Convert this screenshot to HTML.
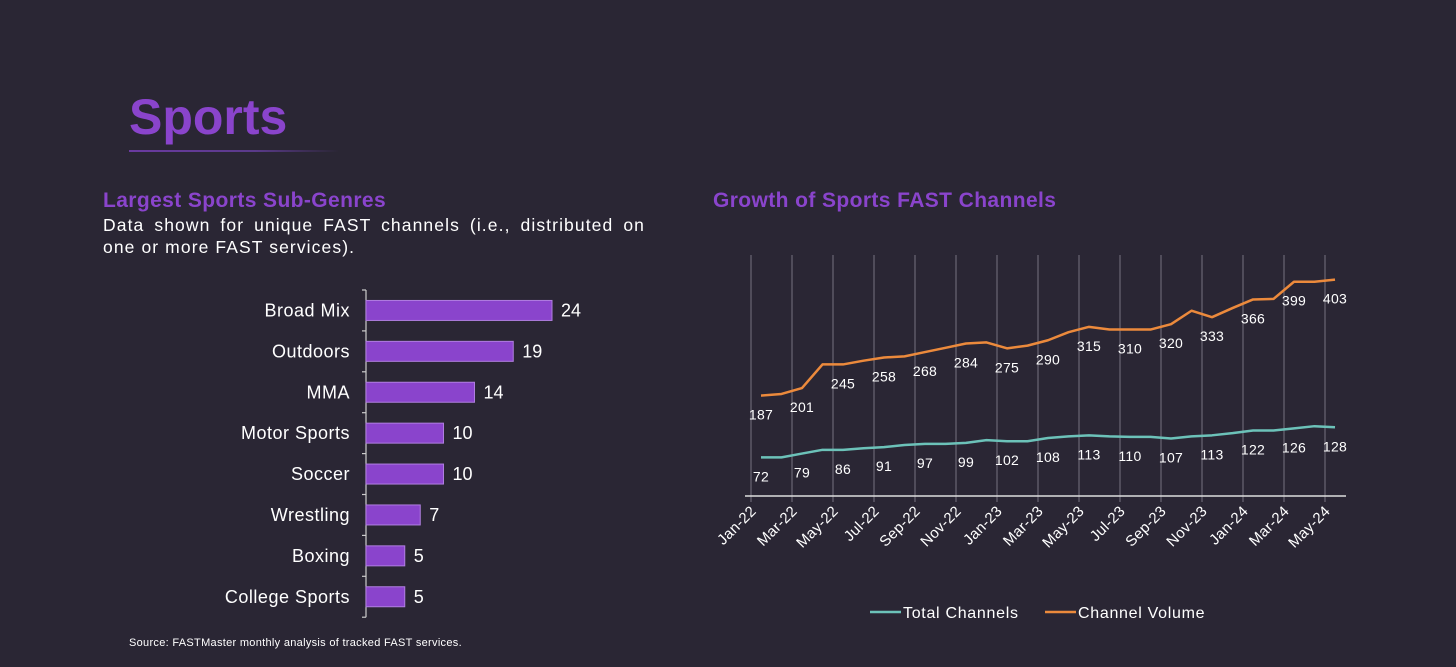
<!DOCTYPE html>
<html><head><meta charset="utf-8">
<style>
html,body{margin:0;padding:0;background:#2a2634;}
body{width:1456px;height:667px;position:relative;overflow:hidden;font-family:"Liberation Sans",sans-serif;color:#fff;}
.abs{position:absolute;}
</style></head>
<body>
<div class="abs" style="left:129px;top:88px;font-size:50px;font-weight:bold;color:#8a44cc;letter-spacing:0px;">Sports</div>
<div class="abs" style="left:129px;top:150px;width:210px;height:2px;background:linear-gradient(90deg,#6a3aa0,#5a3a8a 60%,rgba(42,38,52,0));"></div>
<div class="abs" style="left:103px;top:189px;font-size:21px;font-weight:bold;color:#8a44cc;letter-spacing:0.4px;">Largest Sports Sub-Genres</div>
<div class="abs" style="left:103px;top:214px;width:542px;font-size:17.5px;line-height:22px;text-align:justify;text-align-last:left;letter-spacing:1.1px;">Data shown for unique FAST channels (i.e., distributed on one or more FAST services).</div>
<div class="abs" style="left:713px;top:189px;font-size:21px;font-weight:bold;color:#8a44cc;letter-spacing:0.4px;">Growth of Sports FAST Channels</div>
<div class="abs" style="left:129px;top:637px;font-size:11px;letter-spacing:0.3px;">Source: FASTMaster monthly analysis of tracked FAST services.</div>

<svg class="abs" style="left:0;top:0" width="1456" height="667" id="charts"></svg>

<script>
const barCategories=["Broad Mix","Outdoors","MMA","Motor Sports","Soccer","Wrestling","Boxing","College Sports"];
const barValues=[24,19,14,10,10,7,5,5];
const months=["Jan-22","Feb-22","Mar-22","Apr-22","May-22","Jun-22","Jul-22","Aug-22","Sep-22","Oct-22","Nov-22","Dec-22","Jan-23","Feb-23","Mar-23","Apr-23","May-23","Jun-23","Jul-23","Aug-23","Sep-23","Oct-23","Nov-23","Dec-23","Jan-24","Feb-24","Mar-24","Apr-24","May-24"];
const channelVolume=[187,190,201,245,245,252,258,260,268,276,284,286,275,280,290,305,315,310,310,310,320,345,333,350,366,367,399,399,403];
const totalChannels=[72,72,79,86,86,89,91,95,97,97,99,104,102,102,108,111,113,111,110,110,107,111,113,117,122,122,126,130,128];

const NS="http://www.w3.org/2000/svg";
const svg=document.getElementById('charts');
function mk(tag,attrs,parent){const e=document.createElementNS(NS,tag);for(const k in attrs)e.setAttribute(k,attrs[k]);(parent||svg).appendChild(e);return e;}

// Bar chart
const bx0=366, bTop=290, band=40.9;
const bxScale=v=>bx0+v*7.75;
const bg=mk('g',{});


const ax=mk('line',{x1:bx0,y1:bTop,x2:bx0,y2:bTop+band*8,stroke:'#ccc','stroke-width':1.2},bg);


for(let i=0;i<=8;i++){mk('line',{x1:bx0-4,y1:bTop+i*band,x2:bx0,y2:bTop+i*band,stroke:'#ccc','stroke-width':1.2},bg);}
barCategories.forEach((c,i)=>{
  const cy=bTop+band*(i+0.5);
  const r=mk('rect',{x:bx0,y:cy-10,width:bxScale(barValues[i])-bx0,height:20,fill:'#8a44cc',stroke:'#b07ee0','stroke-width':1},bg);
  
  
  const t=mk('text',{x:350,y:cy+6,'text-anchor':'end','font-size':18,'letter-spacing':0.5,fill:'#fff'},bg);t.textContent=c;
  
  
  const v=mk('text',{x:bxScale(barValues[i])+9,y:cy+6,'font-size':18,fill:'#fff'},bg);v.textContent=barValues[i];
  
  
});

// Line chart
const lx=i=>761+i*20.5;
const tickX=i=>751+i*20.5;
const ly=v=>496-v*0.537;
const lg=mk('g',{});


for(let i=0;i<months.length;i+=2){
  const g=mk('line',{x1:tickX(i),y1:255,x2:tickX(i),y2:502,stroke:'#77737f','stroke-width':1},lg);
  
  
  const t=mk('text',{x:0,y:0,'text-anchor':'end','font-size':15,'letter-spacing':0.3,fill:'#fff',transform:`translate(${tickX(i)+6},${512}) rotate(-45)`},lg);
  t.textContent=months[i];
  
  
}
const xa=mk('line',{x1:745,y1:496,x2:1346,y2:496,stroke:'#ddd','stroke-width':1.5},lg);


function series(vals,color,name){
  const p=mk('polyline',{points:vals.map((v,i)=>lx(i)+','+ly(v)).join(' '),fill:'none',stroke:color,'stroke-width':2.5,'stroke-linejoin':'round'},lg);
  
  
  for(let i=0;i<vals.length;i+=2){
    const t=mk('text',{x:lx(i),y:ly(vals[i])+24,'text-anchor':'middle','font-size':14,'letter-spacing':0.3,fill:'#fff'},lg);
    t.textContent=vals[i];
    
    
  }
}
series(channelVolume,'#ec8a3c','channel-volume-line');
series(totalChannels,'#6cc2b9','total-channels-line');

// Legend
const leg=[["Total Channels","#6cc2b9",870],["Channel Volume","#ec8a3c",1045]];
leg.forEach(([n,c,x])=>{
  const l=mk('line',{x1:x,y1:612,x2:x+31,y2:612,stroke:c,'stroke-width':2.5},lg);
  
  
  const t=mk('text',{x:x+33,y:618,'font-size':16,'letter-spacing':0.7,fill:'#fff'},lg);t.textContent=n;
  
  
});
</script>
</body></html>
